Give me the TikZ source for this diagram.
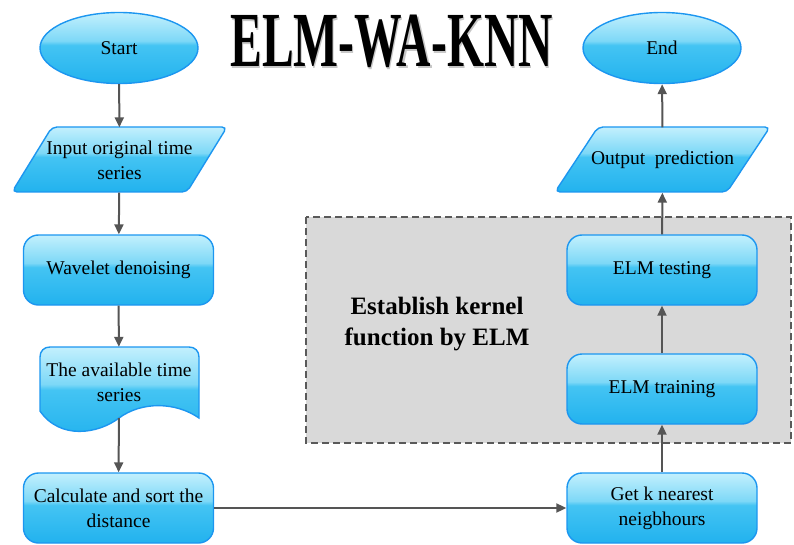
\documentclass[tikz,border=0pt]{standalone}
\usepackage{fontspec}
\setmainfont{Liberation Serif}
\usetikzlibrary{shapes.geometric,arrows.meta}

\definecolor{edgeblue}{RGB}{28,150,240}
\definecolor{glossTop}{RGB}{195,240,253}
\definecolor{glossHi}{RGB}{125,216,247}
\definecolor{glossMid}{RGB}{68,196,243}
\definecolor{glossBot}{RGB}{34,178,238}
\definecolor{linegray}{RGB}{85,85,85}
\definecolor{panelgray}{RGB}{217,217,217}
\definecolor{panelline}{RGB}{90,90,90}

% glossy vertical fill: light band on top, saturated cyan below
\pgfdeclareverticalshading{gloss}{100bp}{color(0bp)=(glossBot); color(25bp)=(glossBot);
  color(52bp)=(glossMid); color(55bp)=(glossHi); color(75bp)=(glossTop); color(100bp)=(glossTop)}

% headline word with a light drop shadow behind it
\newcommand{\shadowedword}[1]{\makebox[0pt][l]{\hspace{2pt}\raisebox{-2pt}{\color{black!22}#1}}#1}

\tikzset{
  flow/.style={shade, shading=gloss, draw=edgeblue, line width=1.4pt},
  label/.style={font=\fontsize{19.5}{25}\selectfont, align=center, text=black},
  boxnode/.style={flow, label, rounded corners=15pt, minimum width=190pt, minimum height=70pt},
  term/.style={flow, label, ellipse, minimum width=158pt, minimum height=71pt},
  plain/.style={label, inner sep=0pt},
  link/.style={-{Triangle[length=10pt,width=9pt]}, line width=2pt, draw=linegray},
  panel/.style={fill=panelgray, draw=panelline, line width=2pt, dash pattern=on 7pt off 4pt},
  headline/.style={font=\fontsize{78}{78}\bfseries\selectfont}
}

\begin{document}
\begin{tikzpicture}[x=1pt,y=-1pt]
\useasboundingbox (0,0) rectangle (794,545);

% shaded panel around the ELM stages
\path[panel] (306,217) rectangle (791,443);
\node[font=\fontsize{25}{31}\bfseries\selectfont, align=center] (kernel) at (437,324)
  {Establish kernel\\function by ELM};

% title
\node[headline] (title) at (391.5,42.5) {\scalebox{0.61}[1]{\shadowedword{ELM-WA-KNN}}};

% left column
\node[term] (start) at (119,48) {Start};

\path[flow, rounded corners=5pt] (12,192) -- (187,192) -- (227,127) -- (52,127) -- cycle;
\node[plain, minimum width=175pt, minimum height=65pt] (inp) at (119.5,160)
  {Input original time\\series};

\node[boxnode] (wav) at (118.5,270) {Wavelet denoising};

\path[flow] (40,411) -- (40,357) .. controls (40,351) and (44,347) .. (50,347)
  -- (189,347) .. controls (195,347) and (199,351) .. (199,357) -- (199,418)
  .. controls (176,402) and (142,401) .. (119,418)
  .. controls (98,434) and (60,440) .. (40,411) -- cycle;
\node[plain, minimum width=159pt, minimum height=71pt] (avail) at (119,382.5)
  {The available time\\series};

\node[boxnode] (calc) at (118.5,508) {Calculate and sort the\\distance};

% right column
\node[boxnode] (getk) at (662,508) {Get k nearest\\neigbhours};
\node[boxnode] (train) at (662,389) {ELM training};
\node[boxnode] (test) at (662,270) {ELM testing};

\path[flow, rounded corners=5pt] (555,192) -- (727,192) -- (770,127) -- (598,127) -- cycle;
\node[plain, minimum width=172pt, minimum height=65pt] (out) at (662.5,160)
  {Output~ prediction};

\node[term] (end) at (662,48) {End};

% connectors
\draw[link] (start) -- (inp);
\draw[link] (inp) -- (wav);
\draw[link] (wav) -- (avail);
\draw[link] (avail) -- (calc);
\draw[link] (calc) -- (getk);
\draw[link] (getk) -- (train);
\draw[link] (train) -- (test);
\draw[link] (test) -- (out);
\draw[link] (out) -- (end);
\end{tikzpicture}
\end{document}
